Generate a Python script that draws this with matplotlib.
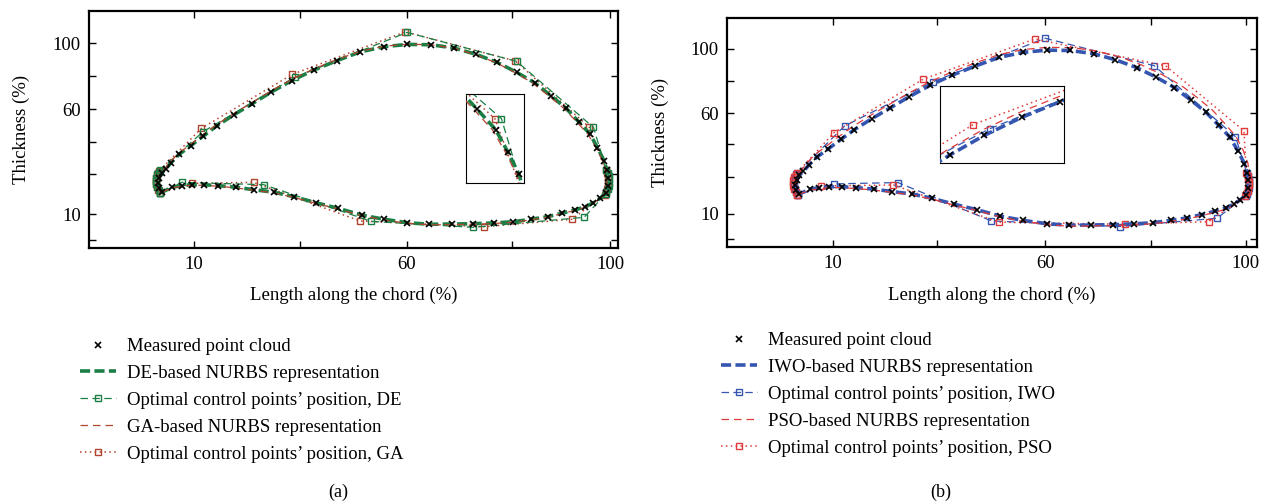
import matplotlib.pyplot as plt

plt.rcParams['font.family'] = ['Liberation Serif', 'DejaVu Serif']
plt.rcParams['font.size'] = 13

# measured point cloud (same airfoil in both panels), loop: LE -> upper -> TE -> lower
meas_x = [0.4, -0.3, -0.5, -0.2, 0.4,
          1.3, 2.5, 4.3, 6.9, 9.7, 12.7, 16.5, 20.7, 24.9, 29.5, 34.5, 39.6, 44.9, 50.2,
          55.5, 60.8, 66.0, 70.8, 75.6, 80.0, 84.0, 87.7, 91.0, 93.9, 96.4, 98.1, 99.6,
          100.2, 100.4, 100.4, 100.0,
          98.7, 97.2, 95.4, 93.0, 90.1, 86.9, 83.2, 79.2, 74.9, 70.3, 65.4, 60.4, 55.5,
          50.2, 45.2, 39.9, 34.9, 30.0, 25.5, 21.1, 17.0, 13.1, 9.9, 7.1, 4.9, 2.8]
meas_y = [23.2, 25.6, 28.2, 30.8, 33.2,
          35.2, 38.5, 42.8, 47.3, 52.3, 57.5, 63.2, 69.1, 75.0, 81.0, 86.5, 91.3, 95.9, 98.6,
          99.8, 99.6, 97.9, 94.7, 90.5, 85.3, 79.9, 73.1, 66.8, 59.7, 53.4, 46.3, 39.4,
          34.5, 30.5, 26.5, 22.8,
          20.1, 17.8, 15.7, 14.0, 12.3, 10.5, 9.2, 7.9, 7.3, 6.9, 6.7, 6.6, 7.4,
          9.2, 11.4, 14.9, 17.8, 20.9, 23.2, 24.5, 25.8, 26.6, 27.1, 27.1, 26.6, 25.8]

# GA-based NURBS curve (a)
ga_x = [0.2, -0.5, -0.7, -0.4, 0.2,
        1.1, 2.3, 4.1, 6.7, 9.5, 12.5, 16.3, 20.5, 24.7, 29.3, 34.3, 39.4, 44.8, 50.1,
        55.5, 60.8, 66.0, 70.7, 75.4, 79.7, 83.6, 87.3, 90.6, 93.5, 96.0, 97.8, 99.3,
        100.0, 100.2, 100.2, 99.8,
        98.6, 97.1, 95.3, 92.9, 90.0, 86.8, 83.1, 79.1, 74.8, 70.2, 65.3, 60.3, 55.4,
        50.1, 45.1, 39.8, 34.8, 29.9, 25.4, 21.0, 16.9, 13.0, 9.8, 7.0, 4.8, 2.7]
ga_y = [23.0, 25.5, 28.2, 30.9, 33.4,
        35.5, 38.9, 43.2, 47.7, 52.7, 57.9, 63.6, 69.5, 75.4, 81.4, 86.9, 91.7, 96.2, 98.8,
        99.9, 99.6, 97.8, 94.5, 90.3, 85.1, 79.7, 72.9, 66.6, 59.5, 53.2, 46.1, 39.2,
        34.4, 30.4, 26.4, 22.6,
        19.8, 17.5, 15.4, 13.7, 12.0, 10.2, 8.9, 7.6, 7.0, 6.6, 6.4, 6.3, 7.1,
        8.9, 11.1, 14.6, 17.5, 20.6, 22.9, 24.2, 25.5, 26.3, 26.8, 26.8, 26.3, 25.5]

# PSO-based NURBS curve (b)
pso_x = [0.2, -0.6, -0.8, -0.5, 0.1,
         1.0, 2.1, 3.9, 6.5, 9.3, 12.3, 16.1, 20.3, 24.6, 29.2, 34.3, 39.5, 44.9, 50.3,
         55.7, 61.2, 66.6, 71.6, 76.6, 81.2, 85.4, 89.2, 92.5, 95.3, 97.7, 99.3, 100.4,
         100.6, 100.7, 100.6, 100.1,
         98.8, 97.3, 95.5, 93.1, 90.2, 87.0, 83.3, 79.3, 75.0, 70.4, 65.5, 60.5, 55.6,
         50.3, 45.3, 40.0, 35.0, 30.1, 25.6, 21.2, 17.1, 13.2, 10.0, 7.2, 5.0, 2.9]
pso_y = [23.0, 25.6, 28.3, 31.0, 33.6,
         36.2, 39.7, 44.2, 48.8, 53.9, 59.1, 64.8, 70.7, 76.6, 82.6, 88.1, 92.9, 97.4, 100.1,
         101.3, 101.1, 99.4, 96.3, 92.0, 86.8, 81.2, 74.3, 67.8, 60.5, 53.9, 46.6, 39.4,
         34.4, 30.4, 26.4, 22.5,
         19.6, 17.3, 15.2, 13.5, 11.8, 10.0, 8.7, 7.4, 6.8, 6.4, 6.2, 6.1, 6.9,
         8.7, 10.9, 14.4, 17.3, 20.4, 22.7, 24.0, 25.3, 26.1, 26.6, 26.6, 26.1, 25.3]

# optimal control points (closed polygons, packed at leading and trailing edge)
de_cx = [0.1, -0.3, -0.6, -0.8, -0.8, -0.8, -0.6, -0.3, 0.0, 9.7, 30.2, 55.4, 80.0, 97.2,
         100.1, 100.4, 100.6, 100.7, 100.7, 100.6, 100.4, 100.1, 99.9,
         95.1, 70.2, 47.4, 23.3, 4.9, 0.1]
de_cy = [22.8, 24.4, 26.0, 27.6, 29.2, 30.8, 32.4, 33.6, 34.6, 54.6, 82.7, 106.0, 91.0, 56.8,
         34.6, 33.0, 31.4, 29.8, 28.2, 26.6, 25.0, 23.4, 22.2,
         10.2, 5.0, 8.1, 27.1, 28.3, 22.8]
ga_cx = [0.0, -0.4, -0.7, -0.9, -0.9, -0.9, -0.7, -0.4, -0.1, 9.3, 29.7, 55.0, 79.7, 96.3,
         99.9, 100.2, 100.4, 100.5, 100.5, 100.4, 100.2, 99.9, 99.7,
         92.4, 72.6, 44.9, 21.0, 7.1, 0.0]
ga_cy = [22.6, 24.2, 25.8, 27.4, 29.0, 30.6, 32.2, 33.4, 34.4, 56.3, 84.3, 106.3, 91.2, 56.8,
         34.6, 33.0, 31.4, 29.8, 28.2, 26.6, 25.0, 23.4, 22.0,
         9.2, 5.3, 8.3, 28.3, 27.8, 22.6]
iwo_cx = [0.1, -0.3, -0.6, -0.8, -0.8, -0.8, -0.6, -0.3, 0.0, 10.5, 30.2, 55.2, 79.5, 97.6,
          100.1, 100.4, 100.6, 100.7, 100.7, 100.6, 100.4, 100.1, 99.9,
          93.5, 71.9, 43.2, 22.4, 8.1, 0.1]
iwo_cy = [22.8, 24.4, 26.0, 27.6, 29.2, 30.8, 32.4, 33.6, 34.6, 59.4, 83.0, 106.1, 91.5, 53.7,
          34.6, 33.0, 31.4, 29.8, 28.2, 26.6, 25.0, 23.4, 22.2,
          10.3, 5.9, 8.9, 29.3, 28.6, 22.8]
pso_cx = [0.0, -0.4, -0.7, -0.9, -0.9, -0.9, -0.7, -0.4, -0.1, 8.1, 28.0, 52.9, 82.0, 99.5,
          100.0, 100.3, 100.5, 100.6, 100.6, 100.5, 100.3, 100.0, 99.8,
          91.6, 73.0, 44.9, 21.4, 5.3, 0.0]
pso_cy = [22.6, 24.2, 25.8, 27.4, 29.0, 30.6, 32.2, 33.4, 34.4, 55.8, 84.3, 105.7, 91.5, 56.8,
          34.6, 33.0, 31.4, 29.8, 28.2, 26.6, 25.0, 23.4, 22.0,
          8.5, 7.1, 8.2, 28.0, 27.5, 22.6]

labels_a = ["Measured point cloud", "DE-based NURBS representation",
            "Optimal control points’ position, DE", "GA-based NURBS representation",
            "Optimal control points’ position, GA"]
labels_b = ["Measured point cloud", "IWO-based NURBS representation",
            "Optimal control points’ position, IWO", "PSO-based NURBS representation",
            "Optimal control points’ position, PSO"]
xtick_labels = ['10', '', '60', '', '100']
ytick_labels = ['100', '', '60', '', '', '10', '']

green = '#1b7f45'
brick = '#b0442e'
blue = '#3556b0'
red = '#e03a3a'


def closed(a):
    return list(a) + [a[0]]


def draw(ax, fit1, ctrl1, fit2, ctrl2, c1, c2, labels, z1, z2):
    h = []
    h += ax.plot(meas_x, meas_y, ls='none', marker='x', color='k', ms=5, mew=1.2,
                 zorder=6, label=labels[0])
    h += ax.plot(closed(fit1[0]), closed(fit1[1]), color=c1, lw=2.6, dashes=(2.8, 1.2),
                 zorder=3, label=labels[1])
    h += ax.plot(ctrl1[0], ctrl1[1], color=c1, lw=0.9, dashes=(6, 3.5), marker='s', ms=4,
                 mfc='none', mew=1.0, zorder=z1, label=labels[2])
    h += ax.plot(closed(fit2[0]), closed(fit2[1]), color=c2, lw=0.9, dashes=(6, 4),
                 zorder=4, label=labels[3])
    h += ax.plot(ctrl2[0], ctrl2[1], color=c2, lw=1.1, dashes=(1, 2.2), marker='s', ms=4,
                 mfc='none', mew=1.0, zorder=z2, label=labels[4])
    return h


def style(ax, xt, yt, xlim, ylim):
    ax.set_xlim(xlim)
    ax.set_ylim(ylim)
    ax.set_xticks(xt, xtick_labels)
    ax.set_yticks(yt, ytick_labels)
    ax.tick_params(direction='in', top=True, right=True, length=5, width=1, pad=6,
                   labelsize=13.5)
    for s in ax.spines.values():
        s.set_linewidth(1.6)


W, H = 1270, 503
fig = plt.figure(figsize=(W / 100, H / 100), dpi=100)

# panel (a)
ax1 = fig.add_axes([89 / W, 1 - 248 / H, 529 / W, 237 / H])
ha = draw(ax1, (meas_x, meas_y), (de_cx, de_cy), (ga_x, ga_y), (ga_cx, ga_cy),
          green, brick, labels_a, 2.5, 2)
style(ax1, [7.6, 31.4, 55.4, 78.9, 100.9], [100.5, 83.4, 66.3, 49.2, 32.6, 11.9, -1.6],
      (-15.9, 102.7), (-5.7, 117.1))
ax1.set_xlabel("Length along the chord (%)", fontsize=13.5)
ax1.set_ylabel("Thickness (%)", fontsize=13.5)
ax1.xaxis.set_label_coords(0.5, -0.165)
ax1.yaxis.set_label_coords(-0.112, 0.5)

ins1 = fig.add_axes([466 / W, 1 - 183 / H, 58 / W, 89 / H])
draw(ins1, (meas_x, meas_y), (de_cx, de_cy), (ga_x, ga_y), (ga_cx, ga_cy),
     green, brick, labels_a, 2.5, 2)
ins1.set_xlim(92.36, 100.28)
ins1.set_ylim(36.7, 64.5)
ins1.set_xticks([])
ins1.set_yticks([])

# panel (b)
ax2 = fig.add_axes([727 / W, 1 - 247 / H, 530 / W, 229 / H])
hb = draw(ax2, (meas_x, meas_y), (iwo_cx, iwo_cy), (pso_x, pso_y), (pso_cx, pso_cy),
          blue, red, labels_b, 2, 2.5)
style(ax2, [7.9, 31.0, 55.2, 78.8, 99.9], [100.4, 83.4, 66.3, 49.8, 32.3, 12.6, -1.0],
      (-15.7, 102.4), (-5.0, 116.9))
ax2.set_xlabel("Length along the chord (%)", fontsize=13.5)
ax2.set_ylabel("Thickness (%)", fontsize=13.5)
ax2.xaxis.set_label_coords(0.5, -0.175)
ax2.yaxis.set_label_coords(-0.11, 0.5)

ins2 = fig.add_axes([940 / W, 1 - 162.7 / H, 124.3 / W, 77 / H])
draw(ins2, (meas_x, meas_y), (iwo_cx, iwo_cy), (pso_x, pso_y), (pso_cx, pso_cy),
     blue, red, labels_b, 2, 2.5)
ins2.set_xlim(23.56, 40.18)
ins2.set_ylim(72.6, 96.2)
ins2.set_xticks([])
ins2.set_yticks([])

for h, x0, y0 in [(ha, 80 / W, 1 - 338 / H), (hb, 721 / W, 1 - 332 / H)]:
    fig.legend(handles=h, loc='upper left', bbox_to_anchor=(x0, y0), frameon=False,
               fontsize=13.5, handlelength=1.9, handletextpad=0.6, labelspacing=0.52,
               borderpad=0, borderaxespad=0)

fig.text(338 / W, 1 - 492 / H, "(a)", ha='center', va='center', fontsize=13)
fig.text(941 / W, 1 - 492 / H, "(b)", ha='center', va='center', fontsize=13)

fig.savefig("out.png", dpi=100)
